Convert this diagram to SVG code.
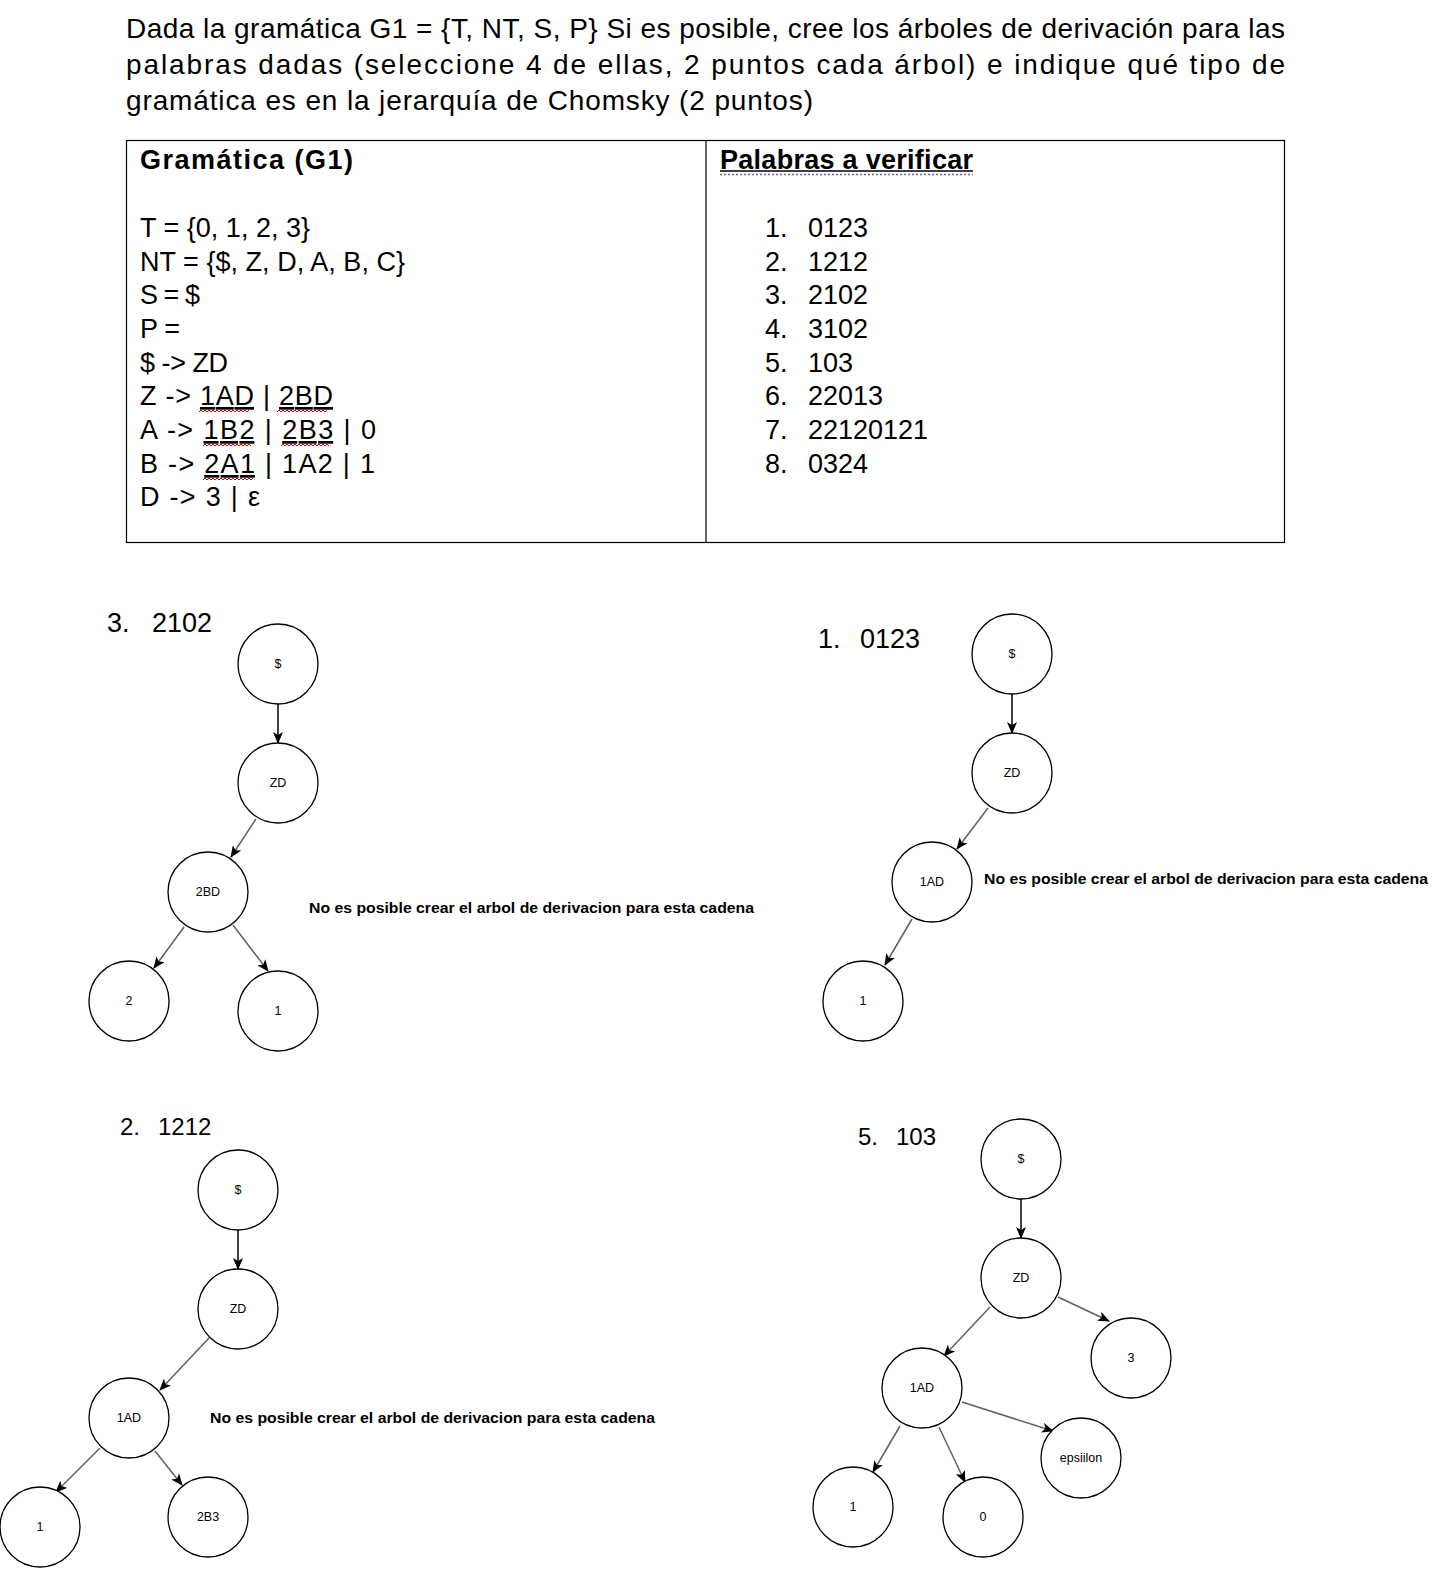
<svg xmlns="http://www.w3.org/2000/svg" width="1451" height="1581" viewBox="0 0 1451 1581">
<defs>
<marker id="arr" viewBox="0 0 12 10" refX="11" refY="5" markerWidth="12" markerHeight="10" markerUnits="userSpaceOnUse" orient="auto">
<path d="M0,0 L12,5 L0,10 L3,5 z" fill="#000"/>
</marker>
<style>
.hd{font-family:"Liberation Sans",Arial,sans-serif;font-size:28px;fill:#000}
.tb{font-family:"Liberation Sans",Arial,sans-serif;font-size:27px;fill:#000}
.tbb{font-family:"Liberation Sans",Arial,sans-serif;font-size:27px;font-weight:bold;fill:#000}
.lbl{font-family:"Liberation Sans",Arial,sans-serif;font-size:27px;fill:#000}
.u{text-decoration:underline}
.nd circle{fill:#fff;stroke:#000;stroke-width:1.3}
.nd text{font-family:"Liberation Sans",Arial,sans-serif;font-size:12.5px;text-anchor:middle;fill:#000}
.msg{font-family:"Liberation Sans",Arial,sans-serif;font-size:15.5px;font-weight:bold;fill:#000}
.e{stroke:#606060;stroke-width:1.5;fill:none;marker-end:url(#arr)}
.e0{stroke:#000}
.sq{stroke:#e00000;stroke-width:1;fill:none}
</style>
</defs>
<rect width="1451" height="1581" fill="#fff"/>

<g id="header">
<text class="hd" x="126" y="38" textLength="1159" lengthAdjust="spacing">Dada la gramática G1 = {T, NT, S, P} Si es posible, cree los árboles de derivación para las</text>
<text class="hd" x="126" y="74" textLength="1159" lengthAdjust="spacing">palabras dadas (seleccione 4 de ellas, 2 puntos cada árbol) e indique qué tipo de</text>
<text class="hd" x="126" y="110" textLength="687" lengthAdjust="spacing">gramática es en la jerarquía de Chomsky (2 puntos)</text>
</g>

<g id="table">
<rect x="126.5" y="140.5" width="1158" height="402" fill="none" stroke="#000" stroke-width="1.2"/>
<line x1="706" y1="140" x2="706" y2="543" stroke="#000" stroke-width="1.2"/>
<text class="tbb" x="140" y="169" textLength="213" lengthAdjust="spacing">Gramática (G1)</text>
<text class="tb" x="140" y="237" textLength="170" lengthAdjust="spacing">T = {0, 1, 2, 3}</text>
<text class="tb" x="140" y="271" textLength="265" lengthAdjust="spacing">NT = {$, Z, D, A, B, C}</text>
<text class="tb" x="140" y="304" textLength="60" lengthAdjust="spacing">S = $</text>
<text class="tb" x="140" y="338" textLength="40" lengthAdjust="spacing">P =</text>
<text class="tb" x="140" y="372" textLength="88" lengthAdjust="spacing">$ -&gt; ZD</text>
<text class="tb" x="140" y="405" textLength="193" lengthAdjust="spacing">Z -&gt; <tspan class="u">1AD</tspan> | <tspan class="u">2BD</tspan></text>
<text class="tb" x="140" y="439" textLength="236" lengthAdjust="spacing">A -&gt; <tspan class="u">1B2</tspan> | <tspan class="u">2B3</tspan> | 0</text>
<text class="tb" x="140" y="473" textLength="235" lengthAdjust="spacing">B -&gt; <tspan class="u">2A1</tspan> | 1A2 | 1</text>
<text class="tb" x="140" y="506" textLength="120" lengthAdjust="spacing">D -&gt; 3 | ε</text>
<path class="sq" d="M199,412 l2,-2 l2,2 l2,-2 l2,2 l2,-2 l2,2 l2,-2 l2,2 l2,-2 l2,2 l2,-2 l2,2 l2,-2 l2,2 l2,-2 l2,2 l2,-2 l2,2 l2,-2 l2,2 l2,-2 l2,2 l2,-2 l2,2 l2,-2"/>
<path class="sq" d="M277,412 l2,-2 l2,2 l2,-2 l2,2 l2,-2 l2,2 l2,-2 l2,2 l2,-2 l2,2 l2,-2 l2,2 l2,-2 l2,2 l2,-2 l2,2 l2,-2 l2,2 l2,-2 l2,2 l2,-2 l2,2 l2,-2 l2,2 l2,-2"/>
<path class="sq" d="M203,446 l2,-2 l2,2 l2,-2 l2,2 l2,-2 l2,2 l2,-2 l2,2 l2,-2 l2,2 l2,-2 l2,2 l2,-2 l2,2 l2,-2 l2,2 l2,-2 l2,2 l2,-2 l2,2 l2,-2 l2,2 l2,-2 l2,2"/>
<path class="sq" d="M281,446 l2,-2 l2,2 l2,-2 l2,2 l2,-2 l2,2 l2,-2 l2,2 l2,-2 l2,2 l2,-2 l2,2 l2,-2 l2,2 l2,-2 l2,2 l2,-2 l2,2 l2,-2 l2,2 l2,-2 l2,2 l2,-2 l2,2"/>
<path class="sq" d="M203,480 l2,-2 l2,2 l2,-2 l2,2 l2,-2 l2,2 l2,-2 l2,2 l2,-2 l2,2 l2,-2 l2,2 l2,-2 l2,2 l2,-2 l2,2 l2,-2 l2,2 l2,-2 l2,2 l2,-2 l2,2 l2,-2 l2,2 l2,-2"/>
<text class="tbb" x="720" y="169" textLength="253" lengthAdjust="spacing">Palabras a verificar</text>
<line x1="720" y1="171" x2="973" y2="171" stroke="#000" stroke-width="1.5"/>
<line x1="720" y1="174.5" x2="973" y2="174.5" stroke="#6a5acd" stroke-width="1.5" stroke-dasharray="2,2"/>
<g>
<text class="tb" x="765" y="237">1.</text><text class="tb" x="808" y="237">0123</text>
<text class="tb" x="765" y="271">2.</text><text class="tb" x="808" y="271">1212</text>
<text class="tb" x="765" y="304">3.</text><text class="tb" x="808" y="304">2102</text>
<text class="tb" x="765" y="338">4.</text><text class="tb" x="808" y="338">3102</text>
<text class="tb" x="765" y="372">5.</text><text class="tb" x="808" y="372">103</text>
<text class="tb" x="765" y="405">6.</text><text class="tb" x="808" y="405">22013</text>
<text class="tb" x="765" y="439">7.</text><text class="tb" x="808" y="439">22120121</text>
<text class="tb" x="765" y="473">8.</text><text class="tb" x="808" y="473">0324</text>
</g>
</g>

<g id="labels">
<text class="lbl" x="107" y="632">3.</text><text class="lbl" x="152" y="632">2102</text>
<text class="lbl" x="818" y="648">1.</text><text class="lbl" x="860" y="648">0123</text>
<text class="lbl" x="120" y="1135" style="font-size:24px">2.</text><text class="lbl" x="158" y="1135" style="font-size:24px">1212</text>
<text class="lbl" x="858" y="1145" style="font-size:24px">5.</text><text class="lbl" x="896" y="1145" style="font-size:24px">103</text>
<text class="msg" x="309" y="913" textLength="445" lengthAdjust="spacingAndGlyphs">No es posible crear el arbol de derivacion para esta cadena</text>
<text class="msg" x="984" y="884" textLength="444" lengthAdjust="spacingAndGlyphs">No es posible crear el arbol de derivacion para esta cadena</text>
<text class="msg" x="210" y="1423" textLength="445" lengthAdjust="spacingAndGlyphs">No es posible crear el arbol de derivacion para esta cadena</text>
</g>

<g id="connectors">
<line class="e e0" x1="278" y1="704" x2="278" y2="743"/>
<line class="e" x1="256" y1="819" x2="231" y2="857"/>
<line class="e" x1="184" y1="927" x2="154" y2="968"/>
<line class="e" x1="233" y1="925" x2="268" y2="971"/>

<line class="e e0" x1="1012" y1="694" x2="1012" y2="733"/>
<line class="e" x1="988" y1="808" x2="957" y2="849"/>
<line class="e" x1="912" y1="919" x2="885" y2="965"/>

<line class="e e0" x1="238" y1="1230" x2="238" y2="1269"/>
<line class="e" x1="209" y1="1338" x2="160" y2="1390"/>
<line class="e" x1="100" y1="1448" x2="56" y2="1492"/>
<line class="e" x1="155" y1="1451" x2="182" y2="1485"/>

<line class="e e0" x1="1021" y1="1199" x2="1021" y2="1238"/>
<line class="e" x1="1058" y1="1297" x2="1109" y2="1321"/>
<line class="e" x1="990" y1="1307" x2="944" y2="1356"/>
<line class="e" x1="962" y1="1402" x2="1053" y2="1431"/>
<line class="e" x1="900" y1="1426" x2="873" y2="1472"/>
<line class="e" x1="939" y1="1427" x2="965" y2="1482"/>
</g>

<g id="t3-s" class="nd"><circle cx="278" cy="664" r="40"/><text x="278" y="668">$</text></g>
<g id="t3-zd" class="nd"><circle cx="278" cy="783" r="40"/><text x="278" y="787">ZD</text></g>
<g id="t3-2bd" class="nd"><circle cx="208" cy="892" r="40"/><text x="208" y="896">2BD</text></g>
<g id="t3-2" class="nd"><circle cx="129" cy="1001" r="40"/><text x="129" y="1005">2</text></g>
<g id="t3-1" class="nd"><circle cx="278" cy="1011" r="40"/><text x="278" y="1015">1</text></g>

<g id="t1-s" class="nd"><circle cx="1012" cy="654" r="40"/><text x="1012" y="658">$</text></g>
<g id="t1-zd" class="nd"><circle cx="1012" cy="773" r="40"/><text x="1012" y="777">ZD</text></g>
<g id="t1-1ad" class="nd"><circle cx="932" cy="882" r="40"/><text x="932" y="886">1AD</text></g>
<g id="t1-1" class="nd"><circle cx="863" cy="1001" r="40"/><text x="863" y="1005">1</text></g>

<g id="t2-s" class="nd"><circle cx="238" cy="1190" r="40"/><text x="238" y="1194">$</text></g>
<g id="t2-zd" class="nd"><circle cx="238" cy="1309" r="40"/><text x="238" y="1313">ZD</text></g>
<g id="t2-1ad" class="nd"><circle cx="129" cy="1418" r="40"/><text x="129" y="1422">1AD</text></g>
<g id="t2-1" class="nd"><circle cx="40" cy="1527" r="40"/><text x="40" y="1531">1</text></g>
<g id="t2-2b3" class="nd"><circle cx="208" cy="1517" r="40"/><text x="208" y="1521">2B3</text></g>

<g id="t5-s" class="nd"><circle cx="1021" cy="1159" r="40"/><text x="1021" y="1163">$</text></g>
<g id="t5-zd" class="nd"><circle cx="1021" cy="1278" r="40"/><text x="1021" y="1282">ZD</text></g>
<g id="t5-3" class="nd"><circle cx="1131" cy="1358" r="40"/><text x="1131" y="1362">3</text></g>
<g id="t5-1ad" class="nd"><circle cx="922" cy="1388" r="40"/><text x="922" y="1392">1AD</text></g>
<g id="t5-eps" class="nd"><circle cx="1081" cy="1458" r="40"/><text x="1081" y="1462">epsiilon</text></g>
<g id="t5-1" class="nd"><circle cx="853" cy="1507" r="40"/><text x="853" y="1511">1</text></g>
<g id="t5-0" class="nd"><circle cx="983" cy="1517" r="40"/><text x="983" y="1521">0</text></g>
</svg>
